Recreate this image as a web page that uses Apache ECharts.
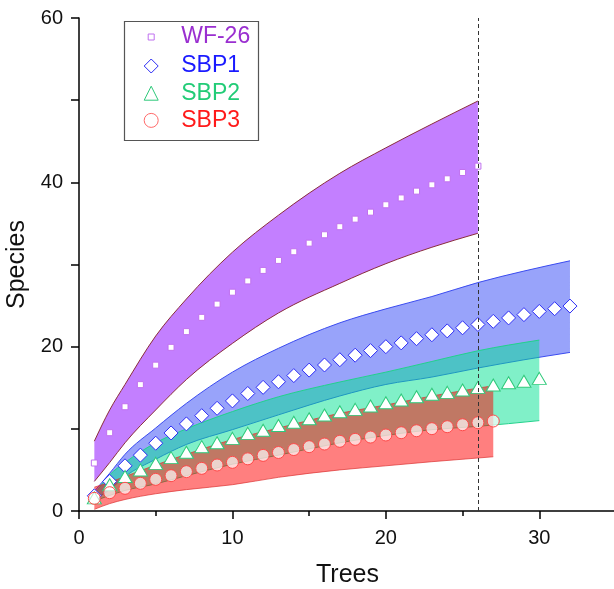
<!DOCTYPE html>
<html>
<head>
<meta charset="utf-8">
<script src="https://cdn.jsdelivr.net/npm/echarts@6/dist/echarts.min.js"></script>
<style>
html,body{margin:0;padding:0;background:#fff;}
#chart{width:614px;height:589px;}
</style>
</head>
<body>
<div id="chart"></div>
<script>
// ---- data ----
var wfX = [1,2,3,4,5,6,7,8,9,10,11,12,13,14,15,16,17,18,19,20,21,22,23,24,25,26];
var wfY = [5.84,9.53,12.69,15.38,17.75,19.92,21.83,23.57,25.18,26.63,28.0,29.28,30.5,31.55,32.6,33.62,34.6,35.52,36.37,37.27,38.1,38.93,39.7,40.43,41.2,41.97];
var wfBandX = [1,2,3,5,7,10,13,17,20,23,26];
var wfUpper = [8.5,12.3,15.4,21.3,25.8,31.5,36.0,41.1,44.2,47.1,49.9];
var wfLower = [3.6,5.9,8.3,12.3,16.0,20.4,24.1,27.7,30.1,32.1,33.8];

var sbp1X = [1,2,3,4,5,6,7,8,9,10,11,12,13,14,15,16,17,18,19,20,21,22,23,24,25,26,27,28,29,30,31,32];
var sbp1Y = [1.85,3.6,5.5,6.8,8.25,9.5,10.6,11.6,12.5,13.4,14.3,15.05,15.73,16.48,17.15,17.77,18.41,18.96,19.52,20.0,20.46,20.97,21.45,21.92,22.3,22.7,23.08,23.5,23.9,24.29,24.62,24.94];
var sbp1BandX = [1,2,3,5,7,10,13,17,20,23,26,29,32];
var sbp1Upper = [2.4,4.6,6.9,10.1,13.1,16.9,19.8,22.9,24.6,26.1,27.8,29.2,30.45];
var sbp1Lower = [1.4,2.6,4.2,6.3,8.1,9.9,11.7,14.0,15.4,16.3,17.4,18.4,19.3];

var sbp2X = [1,2,3,4,5,6,7,8,9,10,11,12,13,14,15,16,17,18,19,20,21,22,23,24,25,26,27,28,29,30];
var sbp2Y = [1.6,3.2,4.2,5.0,5.8,6.5,7.15,7.83,8.3,8.84,9.45,9.82,10.4,10.8,11.23,11.68,12.08,12.37,12.77,13.18,13.5,13.9,14.2,14.44,14.72,15.05,15.33,15.61,15.8,16.14];
var sbp2BandX = [1,2,3,5,7,10,13,17,20,23,26,30];
var sbp2Upper = [2.0,4.4,5.9,8.3,10.0,12.1,13.9,15.7,16.9,18.2,19.5,20.8];
var sbp2Lower = [1.2,1.9,2.5,3.3,4.3,5.7,6.8,8.3,9.2,9.9,10.3,11.0];

var sbp3X = [1,2,3,4,5,6,7,8,9,10,11,12,13,14,15,16,17,18,19,20,21,22,23,24,25,26,27];
var sbp3Y = [1.54,2.23,2.76,3.37,3.85,4.3,4.79,5.19,5.6,5.92,6.35,6.77,7.12,7.48,7.83,8.15,8.48,8.72,9.0,9.25,9.53,9.77,10.02,10.26,10.5,10.75,10.95];
var sbp3BandX = [1,2,3,5,7,10,13,17,20,23,27];
var sbp3Upper = [2.9,3.5,4.2,5.6,6.9,8.7,10.1,11.9,12.9,14.0,15.25];
var sbp3Lower = [0.2,0.9,1.4,2.1,2.6,3.2,4.1,5.0,5.5,6.0,6.6];

var cutoffX = 26;
var xTicks = [0,10,20,30];
var yTicks = [0,20,40,60];

// ---- helpers ----
var FONT = "'Liberation Sans', Arial, sans-serif";
function pairs(xs, ys){ return xs.map(function(x,i){ return [x, ys[i]]; }); }

// cubic Hermite -> bezier segments through pixel points (render-time smoothing only)
function segs(p){
  var n = p.length, h = [], d = [], m = [], i;
  for (i = 0; i < n-1; i++){ h[i] = p[i+1][0]-p[i][0]; d[i] = (p[i+1][1]-p[i][1])/h[i]; }
  for (i = 1; i < n-1; i++){ m[i] = (d[i-1]*h[i] + d[i]*h[i-1])/(h[i-1]+h[i]); }
  m[0] = n > 2 ? (3*d[0]-m[1])/2 : d[0];
  m[n-1] = n > 2 ? (3*d[n-2]-m[n-2])/2 : d[n-2];
  var out = [];
  for (i = 0; i < n-1; i++){
    out.push({
      c1:[p[i][0]+h[i]/3, p[i][1]+m[i]*h[i]/3],
      c2:[p[i+1][0]-h[i]/3, p[i+1][1]-m[i+1]*h[i]/3],
      a:p[i], b:p[i+1]});
  }
  return out;
}
function f(v){ return v[0].toFixed(2)+' '+v[1].toFixed(2); }
function forward(s){ return s.map(function(g){ return 'C'+f(g.c1)+' '+f(g.c2)+' '+f(g.b); }).join(' '); }
function backward(s){ return s.slice().reverse().map(function(g){ return 'C'+f(g.c2)+' '+f(g.c1)+' '+f(g.a); }).join(' '); }

function band(id, xs, up, lo, fill, edge){
  return {
    type:'custom', name:id, coordinateSystem:'cartesian2d', silent:true,
    data:xs.map(function(x,i){ return [x, lo[i], up[i]]; }),
    encode:{x:0, y:[1,2]},
    renderItem:function(params, api){
      if (params.dataIndex !== 0) return null;
      var pu = xs.map(function(x,i){ return api.coord([x, up[i]]); });
      var pl = xs.map(function(x,i){ return api.coord([x, lo[i]]); });
      var su = segs(pu), sl = segs(pl);
      var upD = 'M'+f(pu[0])+' '+forward(su);
      var loD = 'M'+f(pl[0])+' '+forward(sl);
      var fillD = upD + ' L'+f(pl[pl.length-1])+' '+backward(sl)+' Z';
      return {type:'group', children:[
        {type:'path', shape:{pathData:fillD}, style:{fill:fill, stroke:null}},
        {type:'path', shape:{pathData:upD}, style:{fill:null, stroke:edge, lineWidth:1}},
        {type:'path', shape:{pathData:loD}, style:{fill:null, stroke:edge, lineWidth:1}}
      ]};
    }
  };
}

var series = [];
series.push(band('wfBand', wfBandX, wfUpper, wfLower, 'rgba(136,0,255,0.5)', '#8a2d3c'));
series.push({type:'scatter', name:'WF-26', data:pairs(wfX, wfY), symbol:'rect', symbolSize:6,
  itemStyle:{color:'#ffffff', borderColor:'#c070f0', borderWidth:1, opacity:1}});
series.push(band('s1Band', sbp1BandX, sbp1Upper, sbp1Lower, 'rgba(49,71,245,0.5)', '#3b4cf0'));
series.push({type:'scatter', name:'SBP1', data:pairs(sbp1X, sbp1Y), symbol:'diamond', symbolSize:14,
  itemStyle:{color:'#ffffff', borderColor:'#2d2df5', borderWidth:1, opacity:1}});
series.push(band('s2Band', sbp2BandX, sbp2Upper, sbp2Lower, 'rgba(1,225,145,0.5)', '#22d28c'));
series.push({type:'scatter', name:'SBP2', data:pairs(sbp2X, sbp2Y), symbol:'triangle', symbolSize:[14,12],
  itemStyle:{color:'#ffffff', borderColor:'#2ec97a', borderWidth:1, opacity:1}});
series.push(band('s3Band', sbp3BandX, sbp3Upper, sbp3Lower, 'rgba(255,0,0,0.5)', 'rgba(220,50,50,0.7)'));
series.push({type:'scatter', name:'SBP3', data:pairs(sbp3X, sbp3Y), symbol:'circle', symbolSize:12,
  itemStyle:{color:'rgba(255,255,255,0.68)', borderColor:'#ff4a4a', borderWidth:1, opacity:1},
  markLine:{silent:true, symbol:['none','none'], label:{show:false},
    lineStyle:{color:'#333', width:1, type:[4,3]}, data:[{xAxis:cutoffX}]}});

var legendRich = {
  wf:{color:'#9a2fd0', fontSize:23, lineHeight:24, fontFamily:FONT, padding:[0,0,0,22]},
  s1:{color:'#1a1aff', fontSize:23, lineHeight:24, fontFamily:FONT, padding:[0,0,0,18]},
  s2:{color:'#22cc77', fontSize:23, lineHeight:24, fontFamily:FONT, padding:[0,0,0,18]},
  s3:{color:'#ff1a1a', fontSize:23, lineHeight:24, fontFamily:FONT, padding:[0,0,0,18]}
};
var legendKey = {'WF-26':'wf', 'SBP1':'s1', 'SBP2':'s2', 'SBP3':'s3'};
function legendFmt(name){ return '{'+legendKey[name]+'|'+name+'}'; }

var option = {
  animation:false,
  backgroundColor:'#fff',
  textStyle:{fontFamily:FONT},
  grid:{left:79, top:18, width:537, height:493, containLabel:false, outerBoundsMode:'none'},
  xAxis:[
    {type:'value', min:0, max:35, interval:10, position:'bottom',
     name:'Trees', nameLocation:'middle', nameGap:52,
     nameTextStyle:{fontSize:25, color:'#111', fontFamily:FONT},
     axisLine:{lineStyle:{color:'#000', width:1.5}},
     axisTick:{length:8, lineStyle:{color:'#000', width:1.5}},
     axisLabel:{fontSize:20, color:'#111', margin:17, fontFamily:FONT,
       formatter:function(v){ return xTicks.indexOf(v)>=0 ? String(v) : ''; }},
     splitLine:{show:false}},
    {type:'value', min:0, max:35, interval:5, position:'bottom', gridIndex:0,
     axisLine:{show:false},
     axisTick:{length:5, lineStyle:{color:'#000', width:1.5}},
     axisLabel:{show:false}, splitLine:{show:false}}
  ],
  yAxis:{type:'value', min:0, max:60, interval:10,
     name:'Species', nameLocation:'middle', nameGap:44,
     nameTextStyle:{fontSize:25, color:'#111', fontFamily:FONT},
     axisLine:{show:true, lineStyle:{color:'#000', width:1.5}},
     axisTick:{show:true, length:8, lineStyle:{color:'#000', width:1.5}},
     axisLabel:{fontSize:20, color:'#111', margin:16, fontFamily:FONT,
       formatter:function(v){ return yTicks.indexOf(v)>=0 ? String(v) : ''; }},
     splitLine:{show:false}},
  legend:[
    {orient:'vertical', left:147.7, top:25, padding:0, itemWidth:6, itemHeight:6, itemGap:0,
     selectedMode:false, formatter:legendFmt,
     textStyle:{fontSize:23, lineHeight:24, fontFamily:FONT, rich:legendRich},
     data:[{name:'WF-26', icon:'rect', itemStyle:{color:'#fff', borderColor:'#c070f0', borderWidth:1}}]},
    {orient:'vertical', left:143.7, top:54, padding:0, itemWidth:14, itemHeight:14, itemGap:3.2,
     selectedMode:false, formatter:legendFmt,
     textStyle:{fontSize:23, lineHeight:24, fontFamily:FONT, rich:legendRich},
     data:[
       {name:'SBP1', icon:'diamond', itemStyle:{color:'#fff', borderColor:'#2d2df5', borderWidth:1}},
       {name:'SBP2', icon:'triangle', itemStyle:{color:'#fff', borderColor:'#2ec97a', borderWidth:1}},
       {name:'SBP3', icon:'circle', itemStyle:{color:'#fff', borderColor:'#ff6a6a', borderWidth:1}}
     ]}
  ],
  graphic:[{type:'rect', left:122, top:19, shape:{width:134, height:119},
    style:{fill:'none', stroke:'#555', lineWidth:1.2}, silent:true, z:0}],
  series:series
};
var chart = echarts.init(document.getElementById('chart'), null, {renderer:'canvas'});
chart.setOption(option);
</script>
</body>
</html>
